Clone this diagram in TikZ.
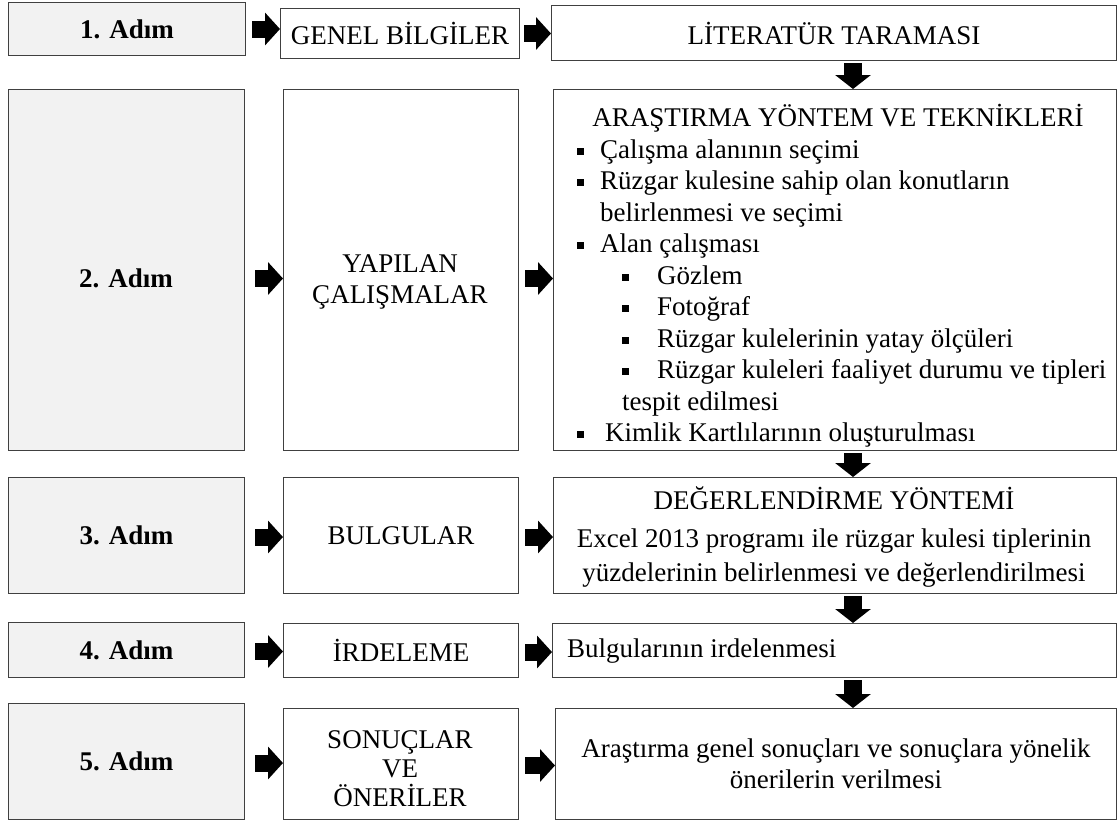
\documentclass[tikz,border=0pt]{standalone}
\usepackage{fontspec}
\setmainfont{Liberation Serif}
\usetikzlibrary{arrows.meta}
\newcommand{\fnt}{\fontsize{27}{31}\selectfont}
\newcommand{\blt}{\rule[3pt]{7pt}{7pt}}

\begin{document}
\begin{tikzpicture}[x=1pt, y=-1pt,
    stepbox/.style={draw=black!75, line width=1pt, fill=black!5, inner sep=0pt, anchor=north west, font=\fnt\bfseries},
    wbox/.style={draw=black!75, line width=1pt, fill=white, inner sep=0pt, anchor=north west, font=\fnt, align=center},
    txt/.style={font=\fnt, inner sep=0pt},
    rarr/.style={line width=17pt, -{Triangle[length=15pt, width=32pt]}},
    darr/.style={line width=18pt, -{Triangle[length=14pt, width=35pt]}, shorten <=2pt}]
  \useasboundingbox (0,0) rectangle (1118,823);

  % step boxes
  \node[stepbox, minimum width=237pt, minimum height=53pt] (s1) at (8,2) {1. Adım};
  \node[stepbox, minimum width=236pt, minimum height=361pt] (s2) at (8,89) {};
  \node[stepbox, minimum width=236pt, minimum height=116pt] (s3) at (8,477) {3. Adım};
  \node[stepbox, minimum width=236pt, minimum height=55pt] (s4) at (8,622) {4. Adım};
  \node[stepbox, minimum width=236pt, minimum height=116pt] (s5) at (8,703) {5. Adım};
  \node[txt, font=\fnt\bfseries] (s2t) at (126,278) {2. Adım};

  % middle column
  \node[wbox, minimum width=239pt, minimum height=50pt] (m1) at (280,8) {GENEL BİLGİLER};
  \node[wbox, minimum width=235pt, minimum height=361pt] (m2) at (283,89) {};
  \node[wbox, minimum width=235pt, minimum height=116pt] (m3) at (283,477) {BULGULAR};
  \node[wbox, minimum width=235pt, minimum height=54pt] (m4) at (283,623) {İRDELEME};
  \node[wbox, minimum width=235pt, minimum height=111pt] (m5) at (283,708) {};
  \node[txt, align=center] (m2t) at (400,282) {YAPILAN\\ÇALIŞMALAR};
  \node[txt, align=center, font=\fontsize{27}{29}\selectfont] (m5t) at (400,769) {SONUÇLAR\\VE\\ÖNERİLER};

  % right column
  \node[wbox, minimum width=565pt, minimum height=55pt] (r1) at (551,5) {LİTERATÜR TARAMASI};
  \node[wbox, minimum width=563pt, minimum height=361pt] (r2) at (553,89) {};
  \node[wbox, minimum width=563pt, minimum height=116pt] (r3) at (553,477) {};
  \node[wbox, minimum width=564pt, minimum height=54pt] (r4) at (552,623) {};
  \node[wbox, minimum width=561pt, minimum height=111pt] (r5) at (555,708) {};

  \node[txt] (r2t) at (838,118) {ARAŞTIRMA YÖNTEM VE TEKNİKLERİ};
  \foreach \yy/\xx/\tx [count=\i] in {
      158/577/{\makebox[23pt][l]{\blt}Çalışma alanının seçimi},
      189/577/{\makebox[23pt][l]{\blt}Rüzgar kulesine sahip olan konutların},
      221/600/{belirlenmesi ve seçimi},
      252/577/{\makebox[23pt][l]{\blt}Alan çalışması},
      284/622/{\makebox[35pt][l]{\blt}Gözlem},
      315/622/{\makebox[35pt][l]{\blt}Fotoğraf},
      347/622/{\makebox[35pt][l]{\blt}Rüzgar kulelerinin yatay ölçüleri},
      378/622/{\makebox[35pt][l]{\blt}Rüzgar kuleleri faaliyet durumu ve tipleri},
      410/622/{tespit edilmesi},
      441/577/{\makebox[28pt][l]{\blt}Kimlik Kartlılarının oluşturulması}}
    \node[txt, anchor=base west] (r2l\i) at (\xx,\yy) {\tx};

  \node[txt] (r3t) at (834,498) {DEĞERLENDİRME YÖNTEMİ};
  \node[txt, align=center, font=\fontsize{27}{34}\selectfont] (r3l) at (834,558)
    {Excel 2013 programı ile rüzgar kulesi tiplerinin\\yüzdelerinin belirlenmesi ve değerlendirilmesi};
  \node[txt, anchor=west] (r4t) at (567,651) {Bulgularının irdelenmesi};
  \node[txt, align=center] (r5t) at (836,764) {Araştırma genel sonuçları ve sonuçlara yönelik\\önerilerin verilmesi};

  % arrows between columns
  \draw[rarr, shorten <=6pt] (s1.east) -- (s1.east -| m1.west);
  \draw[rarr, shorten <=4pt] (m1.east) -- (m1.east -| r1.west);
  \draw[rarr, shorten <=10pt] ([yshift=-8.5pt]s2.east) -- ([yshift=-8.5pt]s2.east -| m2.west);
  \draw[rarr, shorten <=6pt] ([yshift=-8.5pt]m2.east) -- ([yshift=-8.5pt]m2.east -| r2.west);
  \foreach \a/\b/\c in {s3/m3/r3, s4/m4/r4, s5/m5/r5} {
    \draw[rarr, shorten <=10pt] ([yshift=-1.5pt]\a.east) -- ([yshift=-1.5pt]\a.east -| \b.west);
    \draw[rarr, shorten <=6pt] ([yshift=-1.5pt]\b.east) -- ([yshift=-1.5pt]\b.east -| \c.west);
  }

  % arrows down the right column
  \coordinate (ax) at (853,0);
  \draw[darr] (r1.south -| ax) -- (r2.north -| ax);
  \draw[darr] (r2.south -| ax) -- (r3.north -| ax);
  \draw[darr] (r3.south -| ax) -- (r4.north -| ax);
  \draw[darr] (r4.south -| ax) -- (r5.north -| ax);
\end{tikzpicture}
\end{document}
